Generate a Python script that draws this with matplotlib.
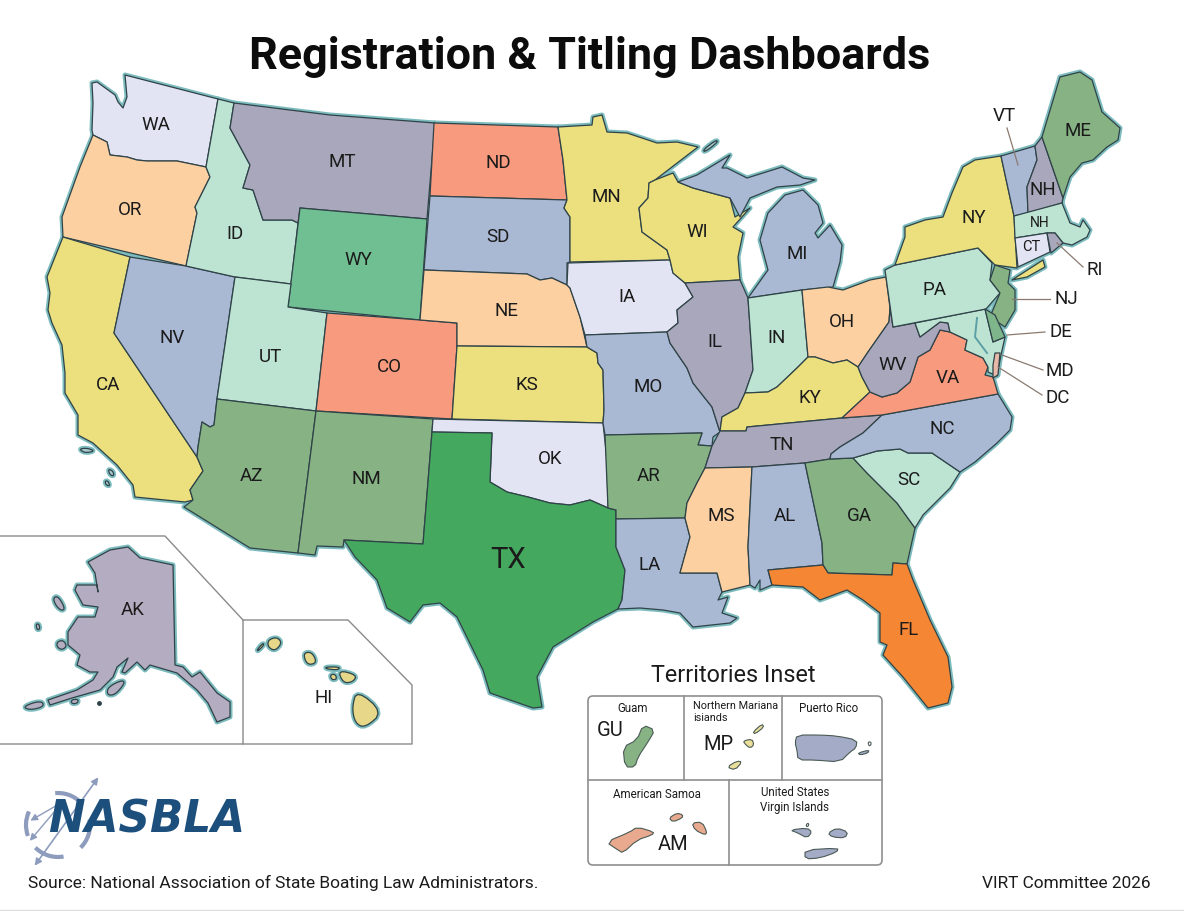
import numpy as np
import matplotlib
matplotlib.use("Agg")
import matplotlib.pyplot as plt
from matplotlib.patches import Polygon, FancyBboxPatch, Arc

WA = [(92,83),(97,82),(115,95),(118,102),(123,108),(127,97),(125,75),(218,99),(206,167),(177,161),(147,161),(137,160),(127,157),(110,155),(107,142),(93,135),(92,130),(93,103)]
OR = [(93,135),(107,142),(110,155),(127,157),(137,160),(147,161),(177,161),(206,167),(210,177),(195,207),(197,213),(186,266),(63,237),(62,217),(80,167)]
CA = [(63,237),(130,257),(114,333),(197,457),(203,471),(190,490),(193,500),(185,502),(135,497),(133,485),(117,465),(93,443),(78,435),(78,415),(65,393),(65,373),(62,345),(52,323),(48,310),(50,293),(47,277)]
NV = [(130,257),(186,266),(235,277),(217,399),(214,425),(210,427),(202,422),(198,447),(197,457),(114,333)]
ID = [(218,99),(234,103),(230,128),(250,165),(243,188),(253,190),(263,220),(292,220),(298,223),(291,284),(235,277),(186,266),(197,213),(195,207),(210,177),(206,167)]
MT = [(234,103),(330,115),(435,123),(427,219),(300,208),(298,223),(292,220),(263,220),(253,190),(243,188),(250,165),(230,128)]
WY = [(300,208),(427,219),(420,320),(288,307)]
UT = [(235,277),(291,284),(288,307),(327,313),(316,411),(217,399)]
AZ = [(217,399),(316,411),(298,553),(250,548),(184,507),(193,500),(190,490),(203,471),(197,457),(198,447),(202,422),(210,427),(214,425)]
CO = [(327,313),(420,320),(457,323),(457,346),(452,419),(316,411)]
NM = [(316,411),(433,419),(432,432),(423,544),(344,540),(343,547),(317,546),(315,555),(298,553)]
ND = [(434,123),(558,127),(563,160),(567,200),(430,196)]
SD = [(430,196),(567,200),(564,208),(570,217),(570,262),(567,263),(567,285),(552,278),(540,280),(527,274),(424,270)]
NE = [(424,270),(527,274),(540,280),(552,278),(567,285),(570,288),(580,317),(587,347),(457,346),(457,323),(420,320)]
KS = [(457,346),(587,347),(597,353),(598,363),(603,370),(604,410),(603,423),(452,419)]
OK = [(433,419),(603,423),(607,460),(608,508),(590,500),(570,505),(550,503),(528,497),(507,492),(490,482),(492,433),(432,432)]
TX = [(432,432),(492,433),(490,482),(507,492),(528,497),(550,503),(570,505),(590,500),(608,508),(616,510),(616,547),(625,570),(622,600),(618,609),(593,622),(553,647),(537,677),(542,707),(533,708),(490,693),(483,670),(457,617),(440,603),(423,605),(410,622),(387,608),(377,580),(355,557),(344,540),(423,544)]
MN = [(558,127),(592,125),(593,117),(602,115),(607,132),(627,133),(657,143),(677,142),(698,147),(655,180),(649,183),(648,198),(639,208),(642,232),(667,250),(670,260),(570,262),(570,217),(564,208),(567,200),(563,160)]
IA = [(568,263),(670,260),(673,273),(685,283),(693,297),(677,310),(678,323),(667,332),(585,335),(580,317),(570,288),(567,285)]
MO = [(585,335),(667,332),(670,343),(687,368),(693,383),(712,407),(720,432),(713,437),(712,446),(698,445),(702,433),(605,435),(603,423),(604,410),(603,370),(598,363),(597,353),(587,347)]
AR = [(605,435),(702,433),(698,445),(712,446),(705,468),(697,483),(687,503),(685,518),(616,519),(616,510),(608,508)]
LA = [(616,519),(685,518),(690,537),(680,573),(717,573),(722,592),(718,600),(728,597),(722,613),(737,618),(730,623),(693,627),(680,613),(663,610),(640,608),(618,609),(622,600),(625,570),(616,547)]
WI = [(655,180),(673,173),(678,182),(693,188),(730,198),(735,217),(750,208),(733,227),(743,233),(738,257),(740,280),(685,283),(673,273),(670,260),(667,250),(642,232),(639,208),(648,198),(649,183)]
IL = [(685,283),(740,280),(748,298),(753,370),(745,393),(738,408),(722,417),(720,432),(712,407),(693,383),(687,368),(670,343),(667,332),(678,323),(677,310),(693,297)]
MI_UP = [(678,182),(697,175),(717,163),(730,155),(722,168),(727,168),(747,178),(782,167),(803,178),(815,180),(800,185),(777,187),(750,198),(740,217),(730,198),(693,188)]
MI_LP = [(785,195),(803,190),(818,205),(823,223),(815,233),(818,238),(830,225),(842,245),(840,262),(833,287),(802,290),(748,298),(768,270),(760,240),(768,213)]
IN = [(748,298),(802,290),(808,357),(797,368),(777,387),(768,392),(745,393),(753,370)]
OH = [(802,290),(828,287),(843,290),(870,280),(886,277),(890,308),(889,322),(868,352),(858,367),(847,360),(833,363),(815,357),(808,357)]
KY = [(720,431),(722,417),(738,408),(745,393),(768,392),(777,387),(797,368),(808,357),(815,357),(833,363),(847,360),(858,367),(862,377),(870,392),(842,418),(747,427),(746,431)]
TN = [(720,431),(746,431),(747,427),(842,418),(882,415),(863,433),(840,447),(831,454),(830,459),(805,463),(752,467),(705,468),(712,446)]
MS = [(705,468),(752,467),(748,547),(750,585),(722,592),(717,573),(680,573),(690,537),(685,518),(687,503),(697,483)]
AL = [(752,467),(805,463),(822,543),(823,565),(768,570),(772,585),(760,590),(760,580),(755,588),(750,585),(748,547)]
GA = [(805,463),(830,459),(853,458),(867,473),(897,503),(915,528),(907,564),(893,563),(892,575),(828,573),(823,565),(822,543)]
FL = [(768,570),(823,565),(828,573),(892,575),(893,563),(907,564),(913,580),(930,620),(948,657),(952,687),(948,703),(928,708),(903,677),(883,655),(887,645),(880,642),(880,613),(863,600),(847,590),(820,600),(803,587),(772,585)]
SC = [(853,458),(877,451),(900,449),(908,453),(932,453),(960,472),(950,488),(923,515),(915,528),(897,503),(867,473)]
NC = [(882,415),(998,394),(1012,417),(1010,430),(997,443),(975,462),(960,472),(932,453),(908,453),(900,449),(877,451),(853,458),(830,459),(831,454),(840,447),(863,433)]
VA = [(940,330),(950,332),(967,340),(965,350),(983,358),(988,367),(985,375),(993,377),(998,394),(882,415),(842,418),(870,392),(882,397),(897,393),(910,382),(918,357),(930,350)]
WV = [(893,327),(915,323),(920,337),(940,322),(948,323),(950,332),(940,330),(930,350),(918,357),(910,382),(897,393),(882,397),(870,392),(862,377),(858,367),(868,352),(889,322),(890,308)]
MD = [(915,323),(985,309),(993,342),(1005,337),(1001,355),(997,376),(988,372),(988,367),(983,358),(965,350),(967,340),(950,332),(948,323),(940,322),(920,337)]
DE = [(985,309),(995,315),(1005,337),(993,342)]
DC = [(995,353),(1000,353),(998,375),(993,378),(993,365)]
PA = [(885,270),(895,265),(978,248),(992,263),(990,280),(1000,293),(986,309),(893,327)]
NY = [(895,265),(905,237),(905,227),(925,220),(943,217),(952,193),(963,167),(975,160),(1001,156),(1014,216),(1017,268),(995,265),(978,248)]
LI = [(1012,280),(1043,260),(1045,267),(1027,277)]
NJ = [(995,265),(1010,270),(1008,283),(1015,290),(1015,310),(1005,327),(990,317),(1000,293),(990,280)]
VT = [(1001,156),(1035,146),(1037,160),(1027,187),(1028,213),(1014,216)]
NH = [(1035,146),(1042,137),(1063,198),(1062,203),(1028,213),(1027,187),(1037,160)]
ME = [(1042,137),(1060,77),(1080,72),(1092,80),(1102,112),(1120,128),(1118,140),(1107,147),(1093,160),(1082,163),(1070,177),(1063,198)]
MA = [(1014,216),(1062,203),(1070,223),(1080,227),(1083,220),(1090,230),(1087,237),(1072,245),(1063,243),(1055,233),(1047,233),(1015,238)]
CT = [(1015,238),(1047,233),(1050,252),(1018,267)]
RI = [(1047,233),(1055,233),(1063,243),(1051,253)]
CHESAPEAKE = [(977,318),(975,337),(987,353)]

AK = [(88,562),(110,550),(128,547),(140,558),(173,565),(175,665),(183,667),(192,677),(200,672),(217,693),(230,702),(230,717),(217,722),(208,703),(197,690),(177,673),(150,665),(145,670),(137,662),(125,673),(122,672),(128,658),(117,667),(113,677),(100,690),(72,698),(50,705),(48,700),(77,690),(93,680),(98,672),(90,672),(77,665),(80,655),(68,645),(68,632),(78,617),(95,617),(98,607),(83,605),(75,590),(77,585),(97,585),(98,592),(95,573)]
AK_KODIAK = [(107,695),(108,687),(122,680),(125,683),(115,695)]
AK_STLAW = [(53,598),(58,596),(65,608),(62,611),(56,606)]
AK_NUNIVAK = [(57,642),(63,640),(67,646),(62,650),(57,647)]
AK_MATTHEW = [(36,624),(39,624),(40,629),(37,630)]
AK_ALEUT1 = [(23,707),(35,702),(43,702),(43,707),(30,710)]
AK_ALEUT2 = [(71,700),(78,699),(78,703),(72,704)]
CA_ISL1 = [(79,449),(87,448),(95,451),(85,453)]
CA_ISL2 = [(108,469),(113,471),(114,476),(110,475)]
CA_ISL3 = [(105,481),(108,481),(110,486),(106,485)]
ISLE_ROYALE = [(703,150),(716,140),(718,142),(705,152)]

HI_BIG = [(357,690),(383,712),(365,728),(355,723),(352,707)]
HI_MAUI = [(338,670),(357,675),(353,682),(343,683)]
HI_MOLOKAI = [(325,667),(340,667),(338,670),(327,669)]
HI_LANAI = [(330,675),(335,674),(337,679),(332,680)]
HI_OAHU = [(303,653),(312,652),(317,663),(307,665)]
HI_KAUAI = [(268,640),(277,637),(282,643),(275,651),(268,647)]
HI_NIIHAU = [(257,650),(263,643),(264,645),(258,651)]

GU = [(643,725),(655,730),(648,742),(638,757),(635,767),(625,767),(623,747),(637,740)]
MP1 = [(753,732),(762,724),(764,727),(755,734)]
MP2 = [(743,741),(752,739),(754,745),(750,748),(746,745)]
MP3 = [(727,767),(737,761),(742,762),(735,770)]
PR = [(797,735),(820,735),(837,736),(857,740),(856,748),(850,752),(840,762),(815,760),(798,760),(797,750),(795,743)]
PR_VIEQUES = [(858,753),(869,750),(868,753),(860,755)]
PR_CULEBRA = [(868,742),(871,742),(871,745),(869,746)]
AS1 = [(606,842),(630,832),(637,827),(654,832),(652,835),(637,840),(623,853),(618,850)]
AS2 = [(669,818),(677,813),(683,815),(682,818),(673,822)]
AS3 = [(692,823),(702,822),(707,832),(705,835),(695,830)]
VI1 = [(790,830),(807,828),(812,832),(807,838),(798,833)]
VI2 = [(828,833),(837,828),(848,832),(845,838),(832,837)]
VI3 = [(805,850),(838,848),(837,852),(820,858),(805,859)]
VI4 = [(806,825),(808,823),(809,825),(807,827)]

lav = "#e3e4f3"
peach = "#fdd0a2"
yellow = "#ebdf7e"
blue = "#a9b8d3"
mint = "#bde4d3"
slate = "#a9a7bb"
sage = "#86b284"
coral = "#f79a7d"
green = "#70bf92"

state_shapes = [WA,OR,CA,NV,ID,MT,WY,UT,AZ,CO,NM,ND,SD,NE,KS,OK,TX,MN,IA,MO,AR,LA,WI,IL,MI_UP,MI_LP,IN,OH,KY,TN,MS,AL,GA,FL,SC,NC,VA,WV,MD,PA,NY,LI,NJ,DE,DC,VT,NH,ME,MA,CT,RI]
state_fills = [lav,peach,yellow,blue,mint,slate,green,mint,sage,coral,sage,coral,blue,peach,yellow,lav,"#44a85e",yellow,lav,blue,sage,blue,yellow,slate,blue,blue,mint,peach,yellow,slate,peach,blue,sage,"#f58634",mint,blue,coral,slate,mint,mint,yellow,yellow,sage,"#7fb58a","#e8b9a8",blue,slate,sage,mint,lav,slate]

ak_shapes = [AK,AK_KODIAK,AK_STLAW,AK_NUNIVAK,AK_MATTHEW,AK_ALEUT1,AK_ALEUT2]
hi_shapes = [HI_BIG,HI_MAUI,HI_MOLOKAI,HI_LANAI,HI_OAHU,HI_KAUAI,HI_NIIHAU]
islet_shapes = [CA_ISL1,CA_ISL2,CA_ISL3,ISLE_ROYALE]

terr_shapes = [GU,MP1,MP2,MP3,PR,PR_VIEQUES,PR_CULEBRA,AS1,AS2,AS3,VI1,VI2,VI3,VI4]
terr_fills = ["#86b284","#e9df9a","#e9df9a","#e9df9a","#a3abc6","#a3abc6","#ffffff","#e8a98e","#e8a98e","#e8a98e","#a3abc6","#a3abc6","#a3abc6","#ffffff"]

inner_labels = ["WA","OR","CA","NV","ID","MT","WY","UT","AZ","CO","NM","ND","SD","NE","KS","OK","MN","IA","MO","AR","LA","WI","IL","MS","MI","IN","KY","TN","AL","GA","FL","OH","WV","VA","NC","SC","PA","NY","NH","ME","AK","HI"]
inner_x = [156,130,108,172,235,342,358,270,251,389,366,498,498,506,527,550,606,627,648,649,650,697,715,721,797,777,810,782,785,859,909,842,893,948,942,909,934,974,1043,1078,133,324]
inner_y = [125,210,385,338,234,162,260,357,476,367,479,163,237,311,385,459,197,297,387,476,565,232,342,516,254,338,398,445,516,516,630,322,365,378,429,480,290,218,190,131,610,698]

call_labels = ["VT","RI","NJ","DE","MD","DC"]
call_x = [1004,1095,1066,1061,1060,1058]
call_y = [116,270,299,332,371,398]
call_from = [(1007,128),(1083,267),(1050,299),(1045,332),(1043,370),(1042,395)]
call_to = [(1018,165),(1057,243),(1012,299),(1007,335),(1002,355),(998,367)]

terr_names = ["Guam","Puerto Rico","American Samoa"]
terr_nx = [633,829,657]
terr_ny = [708,708,794]

ink = "#1b1b1b"
halo = "#7dbcbe"
edge = "#2f4348"
plt.rcParams["font.family"] = ["Roboto", "DejaVu Sans"]

fig = plt.figure(figsize=(11.84, 9.11), dpi=100)
ax = fig.add_axes([0, 0, 1, 1])
ax.set_xlim(0, 1184)
ax.set_ylim(911, 0)
ax.axis("off")

def rounded(points, passes=2):
    # corner cutting so the little islands do not look like cut paper
    p = np.array(points, dtype=float)
    for _ in range(passes):
        q = np.roll(p, -1, axis=0)
        p = np.column_stack([0.75 * p + 0.25 * q, 0.25 * p + 0.75 * q]).reshape(-1, 2)
    return p

def fill_all(shapes, fills):
    for s in shapes:
        ax.add_patch(Polygon(s, closed=True, fc="none", ec=halo, lw=3.6, joinstyle="round", zorder=2))
    for s, c in zip(shapes, fills):
        ax.add_patch(Polygon(s, closed=True, fc=c, ec=edge, lw=0.9, joinstyle="round", zorder=3))

fill_all(state_shapes, state_fills)
fill_all([rounded(s) for s in ak_shapes[1:]], ["#b4acc0"] * (len(ak_shapes) - 1))
fill_all(ak_shapes[:1], ["#b4acc0"])
fill_all([rounded(s) for s in hi_shapes], ["#e6d888"] * len(hi_shapes))
fill_all([rounded(s) for s in islet_shapes], ["#a9c9cf"] * len(islet_shapes))
ax.plot(*zip(*CHESAPEAKE), color="#5d9fa5", lw=1.4, zorder=4)
ax.plot(99, 703, "o", ms=2.5, color=edge, zorder=3)

# inset frames
ax.plot([0,165,243,243,0], [536,536,620,744,744], color="#8a8a8a", lw=1, zorder=1)
ax.plot([243,348,412,412,243], [620,620,685,744,744], color="#8a8a8a", lw=1, zorder=1)

ax.add_patch(FancyBboxPatch((588,696), 294, 169, boxstyle="round,pad=0,rounding_size=5", fc="white", ec="#8f8f8f", lw=1.2, zorder=1))
for xs, ys in [([588,882],[780,780]), ([684,684],[696,780]), ([782,782],[696,780]), ([729,729],[780,865])]:
    ax.plot(xs, ys, color="#8f8f8f", lw=1.2, zorder=1)
for s, c in zip(terr_shapes, terr_fills):
    ax.add_patch(Polygon(rounded(s, 1), closed=True, fc=c, ec="#4a5a55", lw=0.8, joinstyle="round", zorder=3))

for lab, x, y in zip(inner_labels, inner_x, inner_y):
    ax.text(x, y, lab, ha="center", va="center", fontsize=13.5, color=ink, zorder=5)
ax.text(508, 560, "TX", ha="center", va="center", fontsize=21, color=ink, zorder=5)
ax.text(1040, 223, "NH", ha="center", va="center", fontsize=10, color=ink, zorder=5)
ax.text(1031, 247, "CT", ha="center", va="center", fontsize=10.5, color=ink, zorder=5)

for lab, x, y in zip(call_labels, call_x, call_y):
    ax.text(x, y, lab, ha="center", va="center", fontsize=13.5, color=ink, zorder=5)
for a, b in zip(call_from, call_to):
    ax.plot([a[0],b[0]], [a[1],b[1]], color="#8a7a70", lw=0.9, zorder=4)

ax.text(590, 57, "Registration & Titling Dashboards", ha="center", va="center", fontsize=32.4, fontweight="bold", color="#0c0c0c")
ax.text(733, 675, "Territories Inset", ha="center", va="center", fontsize=16.8, color=ink)
for n, x, y in zip(terr_names, terr_nx, terr_ny):
    ax.text(x, y, n, ha="center", va="center", fontsize=8.3, color=ink)
ax.text(693, 712, "Northern Mariana\nisiands", ha="left", va="center", fontsize=7.8, color=ink)
ax.text(795, 800, "United States\nVirgin Islands", ha="center", va="center", fontsize=8.3, color=ink)
ax.text(610, 731, "GU", ha="center", va="center", fontsize=14.5, color=ink)
ax.text(718, 745, "MP", ha="center", va="center", fontsize=14.5, color=ink)
ax.text(673, 845, "AM", ha="center", va="center", fontsize=14.5, color=ink)

ax.text(28, 883, "Source: National Association of State Boating Law Administrators.", ha="left", va="center", fontsize=12.55, color=ink)
ax.text(1151, 883, "VIRT Committee 2026", ha="right", va="center", fontsize=12.4, color=ink)
ax.plot([0,1184], [909.5,909.5], color="#dddddd", lw=1)

# logo
logo_blue = "#8d9cbd"
for t1, t2 in [(190,235), (295,345), (20,75), (110,165)]:
    ax.add_patch(Arc((58,825), 64, 64, angle=-30, theta1=t1, theta2=t2, color=logo_blue, lw=3, zorder=1))
ax.annotate("", xy=(100,775), xytext=(33,868), arrowprops=dict(arrowstyle="<|-|>", color=logo_blue, lw=1.2), zorder=1)
ax.annotate("", xy=(28,822), xytext=(66,800), arrowprops=dict(arrowstyle="-|>", color=logo_blue, lw=1), zorder=1)
ax.annotate("", xy=(28,843), xytext=(60,805), arrowprops=dict(arrowstyle="-|>", color=logo_blue, lw=1), zorder=1)
ax.text(147, 820, "NASBLA", ha="center", va="center", fontsize=31.5, fontweight="bold", fontstyle="italic", color="#1c4f7c", family=["DejaVu Sans"], zorder=5)

fig.savefig("out.png", dpi=100)
